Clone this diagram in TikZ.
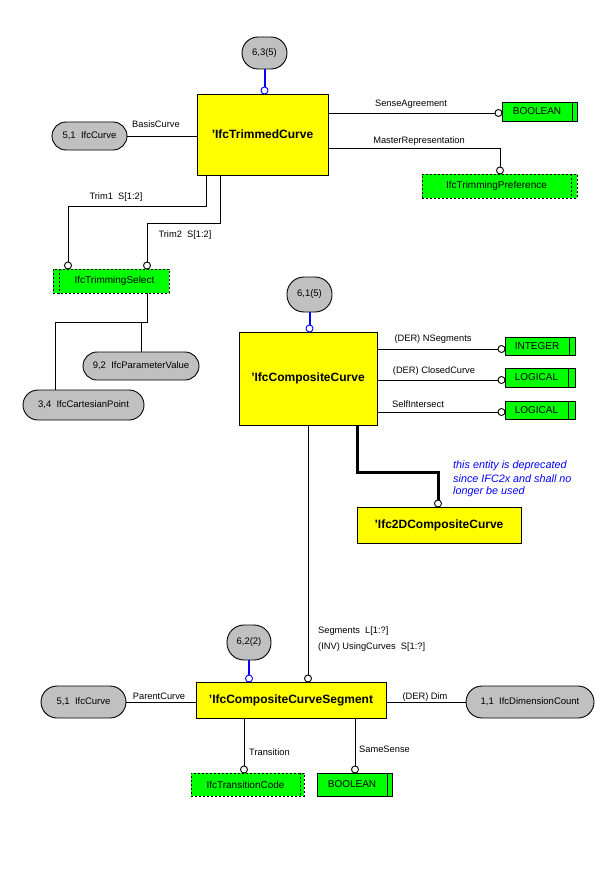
\documentclass[tikz,border=0pt]{standalone}
\usepackage{fontspec}
\setmainfont{Liberation Sans}
\definecolor{entyel}{HTML}{FFFF00}
\definecolor{typgrn}{HTML}{00FF00}
\definecolor{refgrey}{HTML}{C0C0C0}
\definecolor{relblue}{HTML}{0000FF}
\begin{document}
\begin{tikzpicture}[x=1pt,y=-1pt,
  wh/.style 2 args={minimum width=#1pt, minimum height=#2pt},
  ent/.style={draw, fill=entyel, line width=0.9pt, inner sep=0pt, font=\fontsize{12}{14}\selectfont\bfseries},
  typ/.style={draw, fill=typgrn, line width=0.9pt, inner sep=0pt, font=\fontsize{10}{12}\selectfont},
  styp/.style={typ, dash pattern=on 2pt off 2pt},
  refbox/.style={draw, fill=refgrey, line width=0.9pt, inner sep=0pt, rounded corners=#1, font=\fontsize{9.5}{11}\selectfont},
  lbl/.style={inner sep=1pt, font=\fontsize{9.3}{11}\selectfont},
  notelbl/.style={inner sep=0pt, anchor=west, text=relblue, font=\fontsize{10.8}{12}\selectfont\itshape},
  conn/.style={draw, line width=0.9pt},
  thickconn/.style={draw, line width=3pt},
  bluel/.style={draw=relblue, line width=2pt},
  endc/.style={circle, draw, fill=white, line width=0.9pt, minimum size=7pt, inner sep=0pt},
  endb/.style={endc, draw=relblue}
]
\useasboundingbox[fill=white] (0,0) rectangle (600,888);

% ---------- IfcTrimmedCurve ----------
\node[ent, wh={131}{81}] (tc) at (262.5,134.5) {'IfcTrimmedCurve};
\node[refbox=16pt, wh={45}{32}] (e63) at (264.5,53) {6,3(5)};
\node[endb] (c63) at (264.5,90.5) {};
\draw[bluel] (e63.south) -- (c63.north);

\node[refbox=14pt, wh={75}{28}] (cv1) at (89.5,136) {5,1\ \ IfcCurve};
\draw[conn] (cv1.east) -- (cv1.east -| tc.west);
\node[lbl] (lbc) at (156,124) {BasisCurve};

\node[typ, wh={75}{19}] (b1) at (539.5,111.5) {BOOLEAN\hspace*{5pt}};
\draw[conn] ([xshift=-5pt]b1.north east) -- ([xshift=-5pt]b1.south east);
\node[endc] (cb1) at (498.5,113) {};
\draw[conn] (cb1.west -| tc.east) -- (cb1.west);
\node[lbl] (lsa) at (411,104) {SenseAgreement};

\node[styp, wh={155}{24}] (tp) at (499.5,186) {IfcTrimmingPreference\hspace*{6pt}};
\draw[conn, dash pattern=on 2pt off 2pt] ([xshift=-6pt]tp.north east) -- ([xshift=-6pt]tp.south east);
\node[endc] (ctp) at (500,170.5) {};
\coordinate (mrb) at (500,148);
\draw[conn] (mrb -| tc.east) -- (mrb) -- (ctp.north);
\node[lbl] (lmr) at (419,141) {MasterRepresentation};

% ---------- IfcTrimmingSelect ----------
\node[styp, wh={116}{24}] (ts) at (111,281) {\hspace*{7pt}IfcTrimmingSelect};
\draw[conn, dash pattern=on 2pt off 2pt] ([xshift=7pt]ts.north west) -- ([xshift=7pt]ts.south west);
\node[endc] (ct1) at (68,265.5) {};
\node[endc] (ct2) at (147,265.5) {};
\coordinate (t1a) at (206,206);
\coordinate (t2a) at (220,223);
\draw[conn] (t1a |- tc.south) -- (t1a) -| (ct1.north);
\draw[conn] (t2a |- tc.south) -- (t2a) -| (ct2.north);
\node[lbl] (lt1) at (116,197) {Trim1\ \ S[1:2]};
\node[lbl] (lt2) at (185,235) {Trim2\ \ S[1:2]};

\node[refbox=14pt, wh={116}{28}] (pv) at (141,366) {9,2\ \ IfcParameterValue};
\node[refbox=15pt, wh={121}{30}] (cp) at (83.5,405) {3,4\ \ IfcCartesianPoint};
\coordinate (sb) at (147,322);
\coordinate (sl) at (55,322);
\draw[conn] (sb |- ts.south) -- (sb) -- (sl) -- (sl |- cp.north);
\draw[conn] (pv.north |- sb) -- (pv.north);

% ---------- IfcCompositeCurve ----------
\node[ent, wh={138}{93}] (cc) at (308,378.5) {'IfcCompositeCurve};
\node[refbox=17pt, wh={45}{35}] (e61) at (309.5,294.5) {6,1(5)};
\node[endb] (c61) at (309.5,328.5) {};
\draw[bluel] (e61.south) -- (c61.north);

\node[typ, wh={70}{18}] (int) at (540,346) {INTEGER\hspace*{6pt}};
\draw[conn] ([xshift=-6pt]int.north east) -- ([xshift=-6pt]int.south east);
\node[endc] (cint) at (501.5,349) {};
\draw[conn] (cint.west -| cc.east) -- (cint.west);
\node[lbl] (lns) at (433,339) {(DER) NSegments};

\node[typ, wh={70}{19}] (lg1) at (540,377.5) {LOGICAL\hspace*{7pt}};
\draw[conn] ([xshift=-7pt]lg1.north east) -- ([xshift=-7pt]lg1.south east);
\node[endc] (clg1) at (501.5,380) {};
\draw[conn] (clg1.west -| cc.east) -- (clg1.west);
\node[lbl] (lcc) at (434,371) {(DER) ClosedCurve};

\node[typ, wh={70}{18}] (lg2) at (540,410) {LOGICAL\hspace*{7pt}};
\draw[conn] ([xshift=-7pt]lg2.north east) -- ([xshift=-7pt]lg2.south east);
\node[endc] (clg2) at (501.5,412) {};
\draw[conn] (clg2.west -| cc.east) -- (clg2.west);
\node[lbl] (lsi) at (418,404) {SelfIntersect};

% ---------- Ifc2DCompositeCurve ----------
\node[ent, wh={164}{36}] (cc2d) at (439,525) {'Ifc2DCompositeCurve};
\node[endc] (c2d) at (438,503.5) {};
\coordinate (k1) at (357,472);
\draw[thickconn] (k1 |- cc.south) -- (k1) -| (c2d.north);
\node[notelbl] (n1) at (453,466) {this entity is deprecated};
\node[notelbl] (n2) at (453,479) {since IFC2x and shall no};
\node[notelbl] (n3) at (453,492) {longer be used};

% ---------- IfcCompositeCurveSegment ----------
\node[ent, wh={190}{36}] (ccs) at (291,700) {'IfcCompositeCurveSegment};
\node[endc] (cseg) at (308,678.5) {};
\draw[conn] (cseg.north |- cc.south) -- (cseg.north);
\node[lbl, anchor=west] (lseg1) at (317,631) {Segments\ \ L[1:?]};
\node[lbl, anchor=west] (lseg2) at (317,647) {(INV) UsingCurves\ \ S[1:?]};

\node[refbox=17pt, wh={44}{35}] (e62) at (249,642.5) {6,2(2)};
\node[endb] (c62) at (249,678.5) {};
\draw[bluel] (e62.south) -- (c62.north);

\node[refbox=16pt, wh={85}{32}] (cv2) at (83.5,702) {5,1\ \ IfcCurve};
\draw[conn] (cv2.east) -- (cv2.east -| ccs.west);
\node[lbl, fill=white] (lpc) at (159,696) {ParentCurve};

\node[refbox=16pt, wh={128}{32}] (dc) at (530,702) {1,1\ \ IfcDimensionCount};
\draw[conn] (dc.west -| ccs.east) -- (dc.west);
\node[lbl, fill=white] (ldim) at (425,697) {(DER) Dim};

\node[styp, wh={113}{23}] (tcd) at (247.5,784.5) {IfcTransitionCode\hspace*{4pt}};
\draw[conn, dash pattern=on 2pt off 2pt] ([xshift=-4pt]tcd.north east) -- ([xshift=-4pt]tcd.south east);
\node[endc] (ctr) at (244,769.5) {};
\draw[conn] (ctr.north |- ccs.south) -- (ctr.north);
\node[lbl, anchor=west] (ltr) at (248,752) {Transition};

\node[typ, wh={75}{23}] (b2) at (354.5,784.5) {BOOLEAN\hspace*{5pt}};
\draw[conn] ([xshift=-5pt]b2.north east) -- ([xshift=-5pt]b2.south east);
\node[endc] (css) at (355,769.5) {};
\draw[conn] (css.north |- ccs.south) -- (css.north);
\node[lbl, anchor=west] (lss) at (358,749) {SameSense};
\end{tikzpicture}
\end{document}
